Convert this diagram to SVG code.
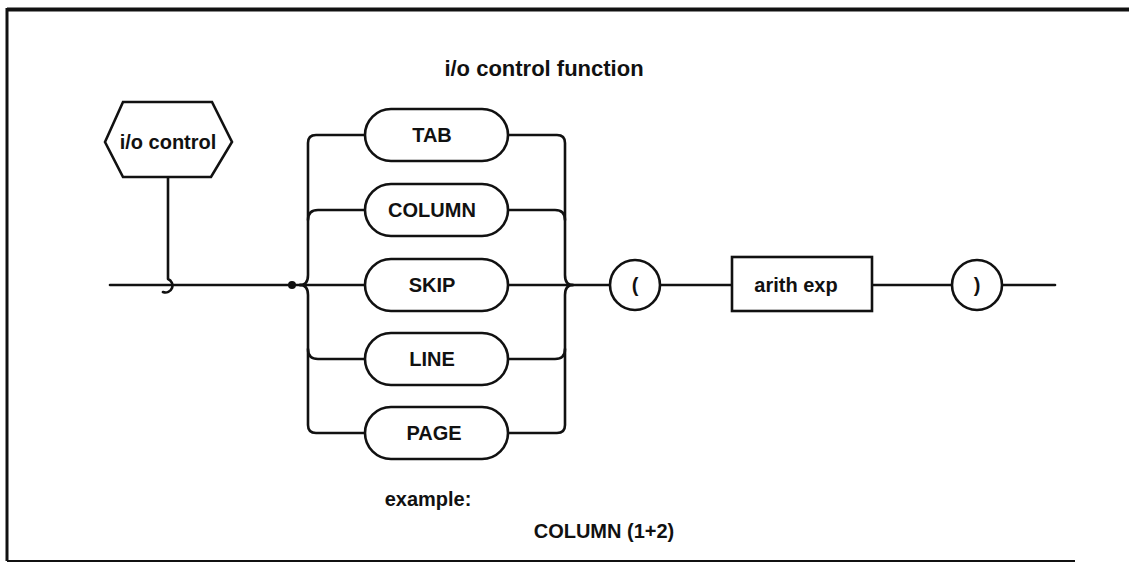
<svg xmlns="http://www.w3.org/2000/svg" width="1129" height="563" viewBox="0 0 1129 563">
<style>
.ln{fill:none;stroke:#111;stroke-width:2.6;stroke-linecap:round;stroke-linejoin:round}
.nd{fill:#fff;stroke:#111;stroke-width:2.6}
.t{font-family:"Liberation Sans",Arial,sans-serif;font-weight:bold;font-size:20px;fill:#111;text-anchor:middle}
.f{fill:none;stroke:#111}
</style>
<rect width="1129" height="563" fill="#fff"/>
<g id="frame">
<path class="f" d="M1129,9.5 H7" stroke-width="4"/>
<path class="f" d="M7,8 V561" stroke-width="3"/>
<path class="f" d="M7,561 H1075" stroke-width="2"/>
</g>
<text class="t" x="544" y="76" style="font-size:22px">i/o control function</text>
<g id="connectors">
<path class="ln" d="M168,178 V279 A6.5,6.5 0 0 1 163,292"/>
<path class="ln" d="M110,285 H300"/>
<circle cx="292" cy="285" r="4" fill="#111"/>
<path class="ln" d="M300,285 Q308,285 308,275 V143 Q308,135 316,135 H365"/>
<path class="ln" d="M300,285 Q308,285 308,295 V425 Q308,433 316,433 H365"/>
<path class="ln" d="M308,220 Q308,210 318,210 H365"/>
<path class="ln" d="M308,349 Q308,359 318,359 H365"/>
<path class="ln" d="M300,285 H365"/>
<path class="ln" d="M508,135 H557 Q565,135 565,143 V275 Q565,285 573,285"/>
<path class="ln" d="M508,433 H557 Q565,433 565,425 V295 Q565,285 573,285"/>
<path class="ln" d="M508,210 H555 Q565,210 565,220"/>
<path class="ln" d="M508,359 H555 Q565,359 565,349"/>
<path class="ln" d="M508,285 H610"/>
<path class="ln" d="M660,285 H732"/>
<path class="ln" d="M872,285 H952"/>
<path class="ln" d="M1002,285 H1055"/>
</g>
<g id="io-control">
<polygon class="nd" points="105,142 123,102 212,102 232,142 211,177 123,177"/>
<text class="t" x="168" y="149">i/o control</text>
</g>
<g id="tab">
<rect class="nd" x="365" y="109" width="143" height="52" rx="26"/>
<text class="t" x="432" y="142">TAB</text>
</g>
<g id="column">
<rect class="nd" x="365" y="184" width="143" height="52" rx="26"/>
<text class="t" x="432" y="217">COLUMN</text>
</g>
<g id="skip">
<rect class="nd" x="365" y="259" width="143" height="52" rx="26"/>
<text class="t" x="432" y="292">SKIP</text>
</g>
<g id="line">
<rect class="nd" x="365" y="333" width="143" height="52" rx="26"/>
<text class="t" x="432" y="366">LINE</text>
</g>
<g id="page">
<rect class="nd" x="365" y="407" width="143" height="52" rx="26"/>
<text class="t" x="434" y="440">PAGE</text>
</g>
<g id="lparen">
<circle class="nd" cx="635" cy="285" r="25"/>
<text class="t" x="635" y="292">(</text>
</g>
<g id="arith-exp">
<rect class="nd" x="732" y="257" width="140" height="54"/>
<text class="t" x="796" y="292">arith exp</text>
</g>
<g id="rparen">
<circle class="nd" cx="977" cy="285" r="25"/>
<text class="t" x="977" y="292">)</text>
</g>
<text class="t" x="428" y="506">example:</text>
<text class="t" x="604" y="538">COLUMN (1+2)</text>
</svg>
